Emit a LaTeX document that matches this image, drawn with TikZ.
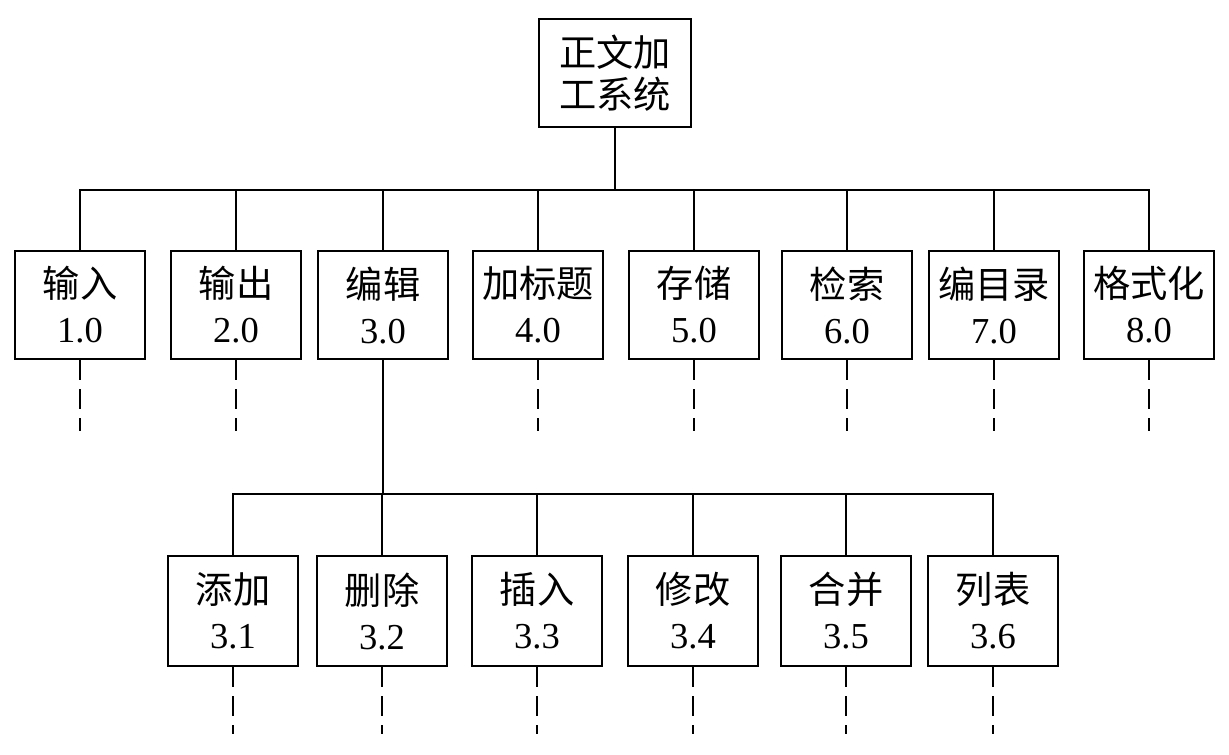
\documentclass[tikz,border=0pt]{standalone}
\usepackage{fontspec}
\setmainfont{Liberation Serif}
\newfontfamily\cjk{Noto Sans CJK SC}
\newcommand{\zh}[1]{{\cjk\fontsize{26.5}{32}\selectfont #1}}
\usetikzlibrary{positioning}

\begin{document}
\begin{tikzpicture}[
  x=0.25mm, y=-0.25mm,
  box/.style={draw, line width=1.4pt, minimum width=32.3mm, minimum height=27mm, inner sep=0pt, align=center, font=\fontsize{26}{32}\selectfont},
  link/.style={line width=1.2pt},
  tail/.style={line width=1.2pt, dash pattern=on 5mm off 2.3mm}
]
\useasboundingbox (0,0) rectangle (1229,755);

% root
\node[box, minimum width=38mm, font=\fontsize{24}{30}\selectfont] (root) at (615,73) {\zh{正文加}\\\zh{工系统}};

% first level
\node[box] (input) at (80,305) {\zh{输入}\\1.0};
\node[box] (output) at (236,305) {\zh{输出}\\2.0};
\node[box] (edit) at (383,305) {\zh{编辑}\\3.0};
\node[box] (title) at (538,305) {\zh{加标题}\\4.0};
\node[box] (store) at (694,305) {\zh{存储}\\5.0};
\node[box] (search) at (847,305) {\zh{检索}\\6.0};
\node[box] (catalog) at (994,305) {\zh{编目录}\\7.0};
\node[box] (format) at (1149,305) {\zh{格式化}\\8.0};

% second level, under edit
\node[box, minimum height=27.5mm] (add) at (233,611) {\zh{添加}\\3.1};
\node[box, minimum height=27.5mm] (del) at (382,611) {\zh{删除}\\3.2};
\node[box, minimum height=27.5mm] (ins) at (537,611) {\zh{插入}\\3.3};
\node[box, minimum height=27.5mm] (mod) at (693,611) {\zh{修改}\\3.4};
\node[box, minimum height=27.5mm] (merge) at (846,611) {\zh{合并}\\3.5};
\node[box, minimum height=27.5mm] (list) at (993,611) {\zh{列表}\\3.6};

% tree lines
\draw[link] (root.south) -- ++(0,62) -| (input.north);
\draw[link] (root.south) -- ++(0,62) -| (output.north);
\draw[link] (root.south) -- ++(0,62) -| (edit.north);
\draw[link] (root.south) -- ++(0,62) -| (title.north);
\draw[link] (root.south) -- ++(0,62) -| (store.north);
\draw[link] (root.south) -- ++(0,62) -| (search.north);
\draw[link] (root.south) -- ++(0,62) -| (catalog.north);
\draw[link] (root.south) -- ++(0,62) -| (format.north);

\draw[link] (edit.south) -- ++(0,134) -| (add.north);
\draw[link] (edit.south) -- ++(0,134) -| (del.north);
\draw[link] (edit.south) -- ++(0,134) -| (ins.north);
\draw[link] (edit.south) -- ++(0,134) -| (mod.north);
\draw[link] (edit.south) -- ++(0,134) -| (merge.north);
\draw[link] (edit.south) -- ++(0,134) -| (list.north);

% further levels not shown
\draw[tail] (input.south) -- ++(0,71);
\draw[tail] (output.south) -- ++(0,71);
\draw[tail] (title.south) -- ++(0,71);
\draw[tail] (store.south) -- ++(0,71);
\draw[tail] (search.south) -- ++(0,71);
\draw[tail] (catalog.south) -- ++(0,71);
\draw[tail] (format.south) -- ++(0,71);
\draw[tail] (add.south) -- ++(0,67);
\draw[tail] (del.south) -- ++(0,67);
\draw[tail] (ins.south) -- ++(0,67);
\draw[tail] (mod.south) -- ++(0,67);
\draw[tail] (merge.south) -- ++(0,67);
\draw[tail] (list.south) -- ++(0,67);
\end{tikzpicture}
\end{document}
